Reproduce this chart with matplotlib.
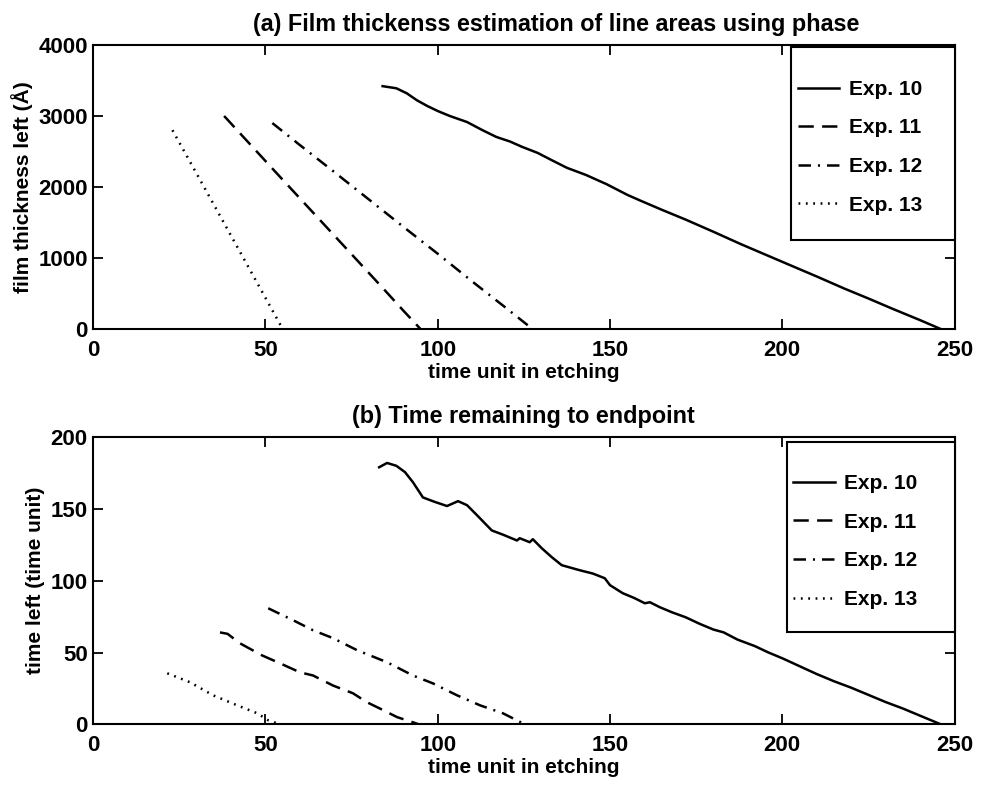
import matplotlib
matplotlib.use("Agg")
import matplotlib.pyplot as plt
from matplotlib.patches import Rectangle

plt.rcParams['font.family'] = ['Liberation Sans', 'DejaVu Sans']
plt.rcParams['font.weight'] = 'bold'
plt.rcParams['lines.scale_dashes'] = False

# ---- (a) film thickness left (Angstrom) vs time unit ----
a_exp10_t = [84, 88, 91, 94, 97, 100, 103.5, 108.5, 113, 117, 121, 124.5, 129, 133,
             137.5, 143, 149, 155, 158.5, 165, 172, 180, 188, 195, 202, 210, 218,
             225, 232, 240, 246]
a_exp10_y = [3420, 3390, 3320, 3220, 3140, 3070, 3000, 2915, 2800, 2705, 2640, 2565,
             2480, 2380, 2270, 2170, 2040, 1890, 1815, 1680, 1540, 1370, 1195, 1050,
             905, 740, 570, 430, 285, 125, 0]
a_exp11_t = [38, 45, 52, 60, 68, 76, 84, 90, 95]
a_exp11_y = [3000, 2630, 2260, 1840, 1420, 1000, 580, 260, 0]
a_exp12_t = [52, 60, 70, 80, 90, 100, 110, 120, 127.5]
a_exp12_y = [2900, 2590, 2210, 1825, 1440, 1060, 670, 290, 0]
a_exp13_t = [23, 30, 38, 46, 55]
a_exp13_y = [2800, 2190, 1490, 790, 0]

# ---- (b) time left (time unit) vs time unit ----
b_exp10_t = [83, 85.3, 88, 90.5, 92.8, 95.7, 99, 102.7, 105.9, 108.5, 111.4, 115.7,
             119, 123, 123.8, 126.7, 127.6, 130.2, 133.1, 136, 141.2, 145, 148.5,
             150, 153.7, 157, 160.1, 161.6, 164.5, 168, 172, 176, 180, 183, 187, 192,
             196, 200, 205, 210, 215, 220, 225, 230, 235, 240, 246]
b_exp10_y = [179, 182, 180, 175.6, 168.6, 158, 155, 152, 155.4, 152.6, 145.6, 135,
             132, 128, 129.6, 126.8, 128.9, 122.6, 116.4, 110.8, 107.3, 105, 101.7,
             96.9, 91.3, 88, 84.3, 85, 81.5, 78, 74.5, 70, 66, 64, 59, 54.5, 50, 46,
             40.5, 35, 30, 25.5, 20.5, 15.5, 11, 6, 0]
b_exp11_t = [36.8, 39, 42.6, 49, 54.2, 60, 63.8, 69.6, 75.4, 79.5, 83.2, 88.2, 92.8, 94.5]
b_exp11_y = [64, 63, 56.4, 48, 42.5, 36.2, 34, 27, 21.6, 15.3, 11, 5, 1.4, 0]
b_exp12_t = [50.8, 58, 63.8, 69.6, 76.6, 85.3, 92.8, 98.6, 105.6, 112.3, 118.9, 124.7, 126]
b_exp12_y = [80.8, 72.5, 65.5, 60, 51.6, 43.2, 34, 28.5, 20.2, 13.2, 7.7, 0.7, 0]
b_exp13_t = [21.5, 28.1, 34.8, 41.8, 47.6, 50.8, 53.4]
b_exp13_y = [35.5, 29.3, 20.2, 13.2, 7.7, 2.8, 0.7]

labels = ["Exp. 10", "Exp. 11", "Exp. 12", "Exp. 13"]
x_ticks = [0, 50, 100, 150, 200, 250]
a_yticks = [0, 1000, 2000, 3000, 4000]
b_yticks = [0, 50, 100, 150, 200]

styles = [
    dict(linestyle='-'),
    dict(linestyle=(0, (11, 6))),
    dict(linestyle=(0, (9, 5, 1.5, 5))),
    dict(linestyle=(0, (1.3, 4))),
]

FS = 15

fig = plt.figure(figsize=(9.81, 7.89), dpi=100)
ax_a = fig.add_axes([0.095, 0.583, 0.878, 0.360])
ax_b = fig.add_axes([0.095, 0.082, 0.878, 0.364])


def draw_panel(ax, series, ymax, yticks, title, title_x, ylabel, legend_box, first_row):
    for (t, y), lab, st in zip(series, labels, styles):
        ax.plot(t, y, color='black', linewidth=1.8, label=lab, **st)
    ax.set_xlim(0, 250)
    ax.set_ylim(0, ymax)
    ax.set_xticks(x_ticks)
    ax.set_yticks(yticks)
    ax.tick_params(direction='in', length=7, width=1.3, top=True, right=True,
                   labelsize=16)
    ax.tick_params(axis='x', pad=8)
    ax.tick_params(axis='y', pad=4)
    for sp in ax.spines.values():
        sp.set_linewidth(1.5)
    ax.set_title(title, fontsize=16.8, fontweight='bold', pad=10, x=title_x)
    ax.set_xlabel("time unit in etching", fontsize=FS, fontweight='bold', labelpad=1)
    ax.set_ylabel(ylabel, fontsize=FS, fontweight='bold', labelpad=4)
    x0, y0, y1 = legend_box
    ax.add_patch(Rectangle((x0, y0), 1 - x0, y1 - y0, transform=ax.transAxes,
                           fill=True, facecolor='white', edgecolor='black',
                           linewidth=1.5, zorder=5, clip_on=False))
    leg = ax.legend(loc='upper left', bbox_to_anchor=(x0 + 0.008, first_row),
                    frameon=False, fontsize=FS, handlelength=2.0,
                    handletextpad=0.45, labelspacing=0.94, borderpad=0,
                    borderaxespad=0)
    leg.set_zorder(6)


draw_panel(ax_a,
           [(a_exp10_t, a_exp10_y), (a_exp11_t, a_exp11_y),
            (a_exp12_t, a_exp12_y), (a_exp13_t, a_exp13_y)],
           4000, a_yticks,
           "(a) Film thickenss estimation of line areas using phase", 0.538,
           "film thickness left (Å)", (0.81, 0.313, 0.993), 0.877)

draw_panel(ax_b,
           [(b_exp10_t, b_exp10_y), (b_exp11_t, b_exp11_y),
            (b_exp12_t, b_exp12_y), (b_exp13_t, b_exp13_y)],
           200, b_yticks,
           "(b) Time remaining to endpoint", 0.5,
           "time left (time unit)", (0.805, 0.32, 0.983), 0.871)

fig.savefig("out.png", dpi=100)
